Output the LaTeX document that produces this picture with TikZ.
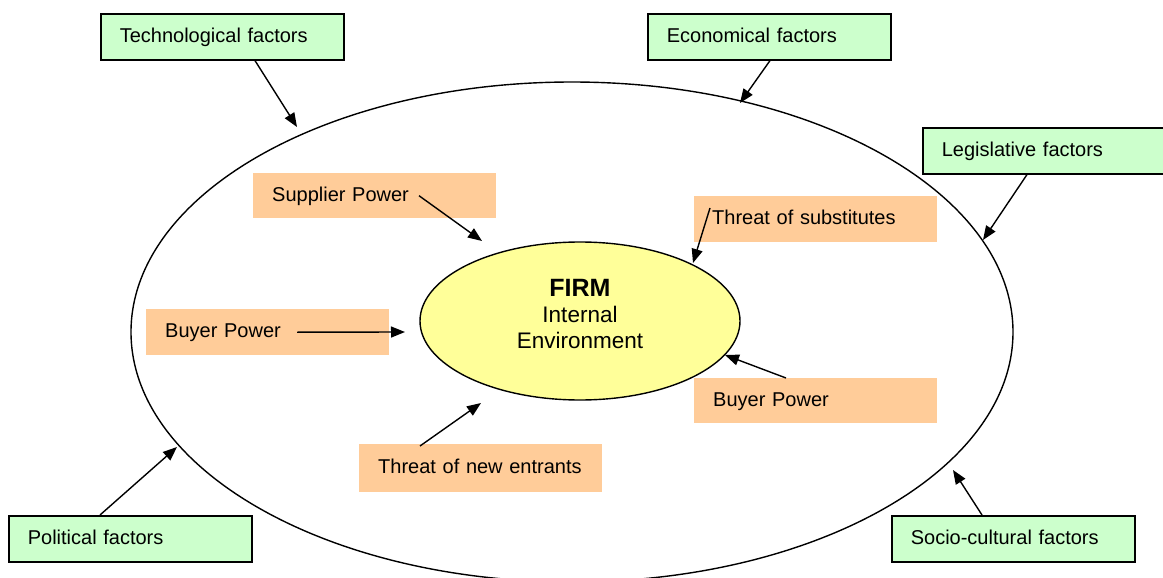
\documentclass[tikz,border=0pt]{standalone}
\usepackage{fontspec}
\setmainfont{Liberation Sans}
\usetikzlibrary{arrows.meta,calc,shapes.geometric}
\definecolor{gfill}{HTML}{CCFFCC}
\definecolor{ofill}{HTML}{FFCC99}
\definecolor{yfill}{HTML}{FFFF99}
\begin{document}
\begin{tikzpicture}[x=1pt,y=-1pt,
 lbl/.style={font=\fontsize{20}{24}\selectfont, anchor=north west, text width=205pt, align=left,
   inner xsep=19pt, inner ysep=0pt, minimum width=243pt, minimum height=46pt, text height=15pt, text depth=4.4pt},
 gbox/.style={lbl, draw, fill=gfill, line width=1.6pt},
 obox/.style={lbl, fill=ofill},
 arr/.style={line width=1.4pt, -{Triangle[length=14pt,width=11pt]}},
 oval/.style={draw, ellipse, line width=1.4pt, inner sep=0pt},
]
\useasboundingbox (0,0) rectangle (1163,578);
\clip (0,0) rectangle (1163,578);

% outer environment
\node[oval, minimum width=882pt, minimum height=500pt] (env) at (572,332) {};
% firm
\node[oval, fill=yfill, minimum width=320pt, minimum height=158pt] (firm) at (580,321) {};
\node[font=\fontsize{22.5}{26}\selectfont, align=center, anchor=base] (firmtxt) at (580,348)
  {{\fontsize{25}{26}\selectfont\bfseries FIRM}\\Internal\\Environment};

% external factors
\node[gbox] (tech) at (100,13) {Technological factors};
\node[gbox] (econ) at (647,13) {Economical factors};
\node[gbox] (leg)  at (922,127) {Legislative factors};
\node[gbox] (pol)  at (8,515)  {Political factors};
\node[gbox] (soc)  at (891,515) {Socio-cultural factors};

% forces
\node[obox, minimum height=45pt] (sup)  at (253,173) {Supplier Power};
\node[obox] (subs) at (694,196) {\hspace*{-1pt}Threat of substitutes};
\node[obox] (buyL) at (146,309) {Buyer Power};
\node[obox, minimum height=45pt] (buyR) at (694,378) {Buyer Power};
\node[obox, minimum height=48pt] (newE) at (359,444) {Threat of new entrants};

% arrow tips
\coordinate (tTech) at (297,127);
\coordinate (tEcon) at (740,103);
\coordinate (tLeg)  at (983,240);
\coordinate (tPol)  at (177,447);
\coordinate (tSoc)  at (953,470);
\coordinate (tSup)  at (482,241);
\coordinate (tSubs) at (693,263);
\coordinate (tBuyL) at (405,332);
\coordinate (tBuyR) at (725,355);
\coordinate (tNewE) at (481,403);

\draw[arr] ($(tech.south west)+(155,0)$) -- (tTech);
\draw[arr] ($(econ.south west)+(123,0)$) -- (tEcon);
\draw[arr] ($(leg.south west)+(105,0)$) -- (tLeg);
\draw[arr] ($(pol.north west)+(92,0)$) -- (tPol);
\draw[arr] ($(soc.north west)+(91,0)$) -- (tSoc);
\draw[arr] ($(sup.west)+(166,0)$) -- (tSup);
\draw[arr] ($(subs.north west)+(16,12)$) -- (tSubs);
\draw[arr] ($(buyL.west)+(151,0)$) -- (tBuyL);
\draw[arr] ($(buyR.north west)+(92,0)$) -- (tBuyR);
\draw[arr] ($(newE.north west)+(61,2)$) -- (tNewE);
\end{tikzpicture}
\end{document}
